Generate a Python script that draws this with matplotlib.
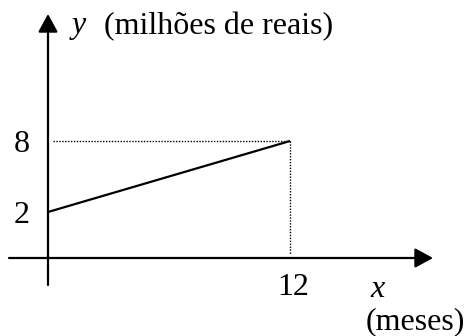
import matplotlib
matplotlib.use("Agg")
import matplotlib.pyplot as plt

# data
x_vals = [0, 12]
y_vals = [2, 8]
x_ticks = [12]
y_ticks = [2, 8]
y_label = "(milhões de reais)"
x_label = "(meses)"

plt.rcParams['font.family'] = ['Liberation Serif', 'DejaVu Serif']

W, H = 465, 336
fig = plt.figure(figsize=(W / 100, H / 100), dpi=100)
ax = fig.add_axes([0, 0, 1, 1])
ax.set_axis_off()

# pixel anchors -> data scale
px0, px12 = 48, 290
py2, py8 = 212, 141
sx = (px12 - px0) / 12.0
sy = (py2 - py8) / 6.0
ax.set_xlim(-px0 / sx, (W - px0) / sx)
ax.set_ylim(2 - (H - py2) / sy, 2 + py2 / sy)

def X(px):
    return (px - px0) / sx

def Y(py):
    return 2 - (py - py2) / sy

x_axis_y = Y(258)
fs = 23

# axes arrows
astyle = '-|>,head_length=0.55,head_width=0.3'
ax.annotate('', xy=(X(433), x_axis_y), xytext=(X(9), x_axis_y),
            arrowprops=dict(arrowstyle=astyle, color='black', lw=1.6,
                            mutation_scale=20, shrinkA=0, shrinkB=0))
ax.annotate('', xy=(0, Y(14)), xytext=(0, Y(285)),
            arrowprops=dict(arrowstyle=astyle, color='black', lw=1.6,
                            mutation_scale=20, shrinkA=0, shrinkB=0))

# data line
ax.plot(x_vals, y_vals, color='black', lw=1.6, solid_capstyle='butt')

# dotted guides
ax.plot([X(53), x_vals[-1]], [y_vals[-1], y_vals[-1]], color='black', lw=1.0,
        linestyle=(0, (1, 1.1)))
ax.plot([x_vals[-1], x_vals[-1]], [y_vals[-1], Y(254)], color='black', lw=1.0,
        linestyle=(0, (1, 1.1)))

# tick labels
for yt in y_ticks:
    ax.annotate(str(yt), xy=(0, yt), xytext=(-26, -11), textcoords='offset pixels',
                ha='center', va='baseline', fontsize=fs)
for xt in x_ticks:
    ax.annotate(str(xt), xy=(xt, x_axis_y), xytext=(3, -37), textcoords='offset pixels',
                ha='center', va='baseline', fontsize=fs)

# axis labels
ax.text(X(72), Y(33), 'y', style='italic', ha='left', va='baseline', fontsize=fs)
ax.text(X(104), Y(34), y_label, ha='left', va='baseline', fontsize=fs)
ax.text(X(370), Y(297), 'x', style='italic', ha='left', va='baseline', fontsize=fs)
ax.text(X(366), Y(329), x_label, ha='left', va='baseline', fontsize=fs)

fig.savefig('out.png', dpi=100)
